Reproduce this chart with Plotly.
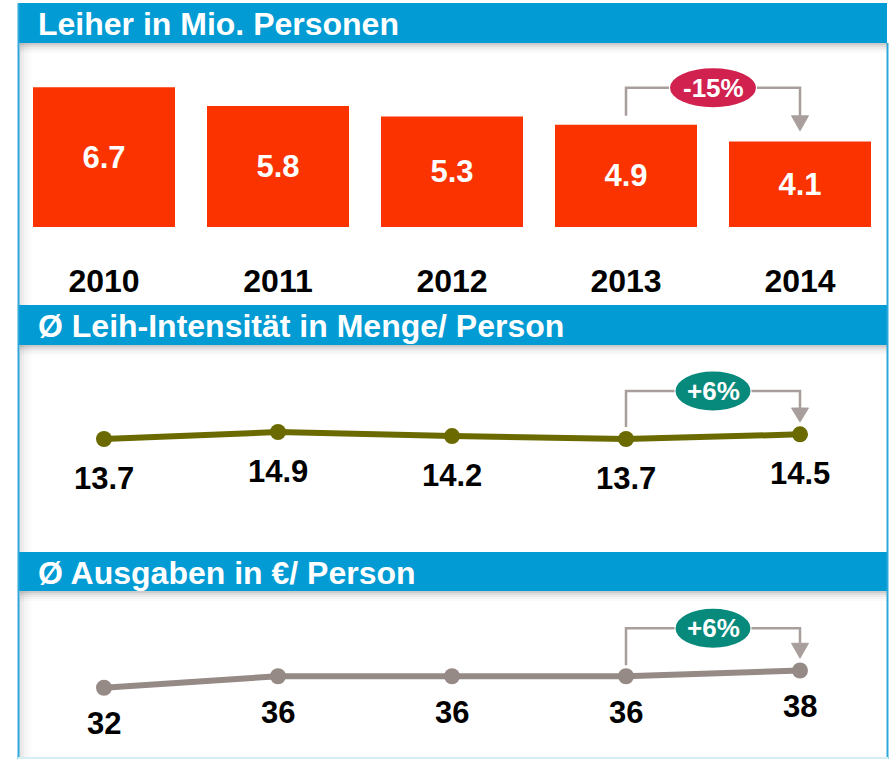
import plotly.graph_objects as go

# ---------------- data ----------------
years = ["2010", "2011", "2012", "2013", "2014"]
leiher = [6.7, 5.8, 5.3, 4.9, 4.1]
leiher_labels = ["6.7", "5.8", "5.3", "4.9", "4.1"]
intensitaet = [13.7, 14.9, 14.2, 13.7, 14.5]
intensitaet_labels = ["13.7", "14.9", "14.2", "13.7", "14.5"]
ausgaben = [32, 36, 36, 36, 38]
ausgaben_labels = ["32", "36", "36", "36", "38"]
titles = ["Leiher in Mio. Personen",
          "Ø Leih-Intensität in Menge/ Person",
          "Ø Ausgaben in €/ Person"]
changes = ["-15%", "+6%", "+6%"]

# ---------------- layout constants ----------------
W, H = 895, 759
FONT = "Liberation Sans, Arial, Helvetica, sans-serif"
HEADER = "#039BD3"
FRAME = "#2EA7DB"
BAR = "#FA3300"
OLIVE = "#6A6A00"
GREY = "#958A85"
BRACKET = "#A89F9C"
XSTEP = 174.0          # px per category
XFIRST = 104.0         # px of first category centre
X0 = -XFIRST / XSTEP
X1 = X0 + W / XSTEP
xpos = list(range(len(years)))


def py(p):
    return 1 - p / H


def pxx(p):
    return p / W


fig = go.Figure()

fig.add_trace(go.Bar(
    x=xpos, y=leiher, text=leiher_labels, textposition="inside",
    insidetextanchor="middle", textangle=0,
    textfont=dict(family=FONT, size=31, color="white", weight="bold"),
    marker=dict(color=BAR, line_width=0), width=142 / XSTEP,
    xaxis="x", yaxis="y", hoverinfo="skip"))

fig.add_trace(go.Scatter(
    x=xpos, y=intensitaet, mode="lines+markers",
    line=dict(color=OLIVE, width=6), marker=dict(size=16, color=OLIVE),
    xaxis="x", yaxis="y2", hoverinfo="skip"))

fig.add_trace(go.Scatter(
    x=xpos, y=ausgaben, mode="lines+markers",
    line=dict(color=GREY, width=6), marker=dict(size=16, color=GREY),
    xaxis="x", yaxis="y3", hoverinfo="skip"))

shapes = []
annotations = []

# left inner shadow
for i, op in enumerate([0.10, 0.07, 0.045, 0.025, 0.012]):
    shapes.append(dict(type="rect", xref="paper", yref="paper",
                       x0=pxx(19 + i * 2.5), x1=pxx(21.5 + i * 2.5),
                       y0=py(759), y1=py(3), fillcolor=f"rgba(0,0,0,{op})",
                       line_width=0, layer="below"))

headers = [(3, 43), (305, 345), (552, 591)]
for (t, b), title in zip(headers, titles):
    # shadow beneath header
    for i, op in enumerate([0.20, 0.13, 0.08, 0.045, 0.02]):
        shapes.append(dict(type="rect", xref="paper", yref="paper",
                           x0=pxx(20), x1=pxx(887),
                           y0=py(b + 2 * (i + 1)), y1=py(b + 2 * i),
                           fillcolor=f"rgba(0,0,0,{op})", line_width=0,
                           layer="below"))
    shapes.append(dict(type="rect", xref="paper", yref="paper",
                       x0=pxx(18), x1=pxx(887), y0=py(b), y1=py(t),
                       fillcolor=HEADER, line_width=0, layer="below"))
    annotations.append(dict(xref="paper", yref="paper", x=pxx(36),
                            y=py((t + b) / 2 + 1), xanchor="left",
                            yanchor="middle", showarrow=False, text=title,
                            font=dict(family=FONT, size=32, color="white",
                                      weight="bold")))

# frame lines
shapes.append(dict(type="line", xref="paper", yref="paper",
                   x0=pxx(18.5), x1=pxx(18.5), y0=py(3), y1=py(759),
                   line=dict(color=FRAME, width=2)))
shapes.append(dict(type="line", xref="paper", yref="paper",
                   x0=pxx(887.5), x1=pxx(887.5), y0=py(43), y1=py(759),
                   line=dict(color=FRAME, width=2)))
shapes.append(dict(type="line", xref="paper", yref="paper",
                   x0=pxx(18), x1=pxx(888), y0=py(758), y1=py(758),
                   line=dict(color="#D4EEF4", width=2)))


def bracket(yref, anchor, left_gap, top, right_base, tip, halfw, color, label):
    xl, xr = 3, 4
    ex_l = 3.5 - (halfw + 1) / XSTEP
    ex_r = 3.5 + (halfw + 1) / XSTEP
    common = dict(xref="x", yref=yref, ysizemode="pixel", yanchor=anchor,
                  line=dict(color=BRACKET, width=2.5))
    shapes.append(dict(type="path",
                       path=f"M {xl},{left_gap} L {xl},{top} L {ex_l},{top}",
                       **common))
    shapes.append(dict(type="path",
                       path=f"M {ex_r},{top} L {xr},{top} L {xr},{right_base}",
                       **common))
    hw = 8.5 / XSTEP
    shapes.append(dict(type="path", xref="x", yref=yref, ysizemode="pixel",
                       yanchor=anchor,
                       path=f"M {xr - hw},{right_base} L {xr + hw},{right_base} L {xr},{tip} Z",
                       fillcolor=BRACKET, line=dict(color=BRACKET, width=1)))
    shapes.append(dict(type="circle", xref="x", yref=yref,
                       xsizemode="pixel", xanchor=3.5, x0=-halfw, x1=halfw,
                       ysizemode="pixel", yanchor=anchor,
                       y0=top - 19.5, y1=top + 19.5,
                       fillcolor=color, line_width=0))
    annotations.append(dict(xref="x", yref=yref, x=3.5, y=anchor,
                            yshift=top, showarrow=False, text=label,
                            xanchor="center", yanchor="middle",
                            font=dict(family=FONT, size=26, color="white",
                                      weight="bold")))


bracket("y", leiher[3], 9, 37, 9, -6, 43, "#D1214F", changes[0])
bracket("y2", intensitaet[3], 12, 48, 31, 17, 37.5, "#078A7B", changes[1])
bracket("y3", ausgaben[3], 11, 48, 33, 18, 37.5, "#078A7B", changes[2])

for i, (v, lab) in enumerate(zip(intensitaet, intensitaet_labels)):
    annotations.append(dict(xref="x", yref="y2", x=xpos[i], y=v, yshift=-39,
                            showarrow=False, text=lab, yanchor="middle",
                            font=dict(family=FONT, size=31, color="black",
                                      weight="bold")))
for i, (v, lab) in enumerate(zip(ausgaben, ausgaben_labels)):
    annotations.append(dict(xref="x", yref="y3", x=xpos[i], y=v, yshift=-36,
                            showarrow=False, text=lab, yanchor="middle",
                            font=dict(family=FONT, size=31, color="black",
                                      weight="bold")))

fig.update_layout(
    width=W, height=H, margin=dict(l=0, r=0, t=0, b=0),
    paper_bgcolor="white", plot_bgcolor="white", showlegend=False,
    hovermode=False,
    xaxis=dict(range=[X0, X1], domain=[0, 1], tickvals=xpos, ticktext=years,
               showgrid=False, zeroline=False, showline=False, ticks="",
               ticklabelstandoff=32, anchor="y", fixedrange=True,
               tickfont=dict(family=FONT, size=32, color="black",
                             weight="bold")),
    yaxis=dict(domain=[py(227), py(45)], range=[0, 182 / 20.85],
               visible=False, anchor="x", fixedrange=True),
    yaxis2=dict(domain=[py(500), py(350)], range=[3.24, 28.97],
                visible=False, anchor="x", fixedrange=True),
    yaxis3=dict(domain=[py(745), py(600)], range=[12.09, 62.52],
                visible=False, anchor="x", fixedrange=True),
    shapes=shapes, annotations=annotations,
)

fig.write_html("out.html",
               config={"displayModeBar": False, "staticPlot": True},
               post_script="document.body.style.margin='0';"
                           "document.body.style.overflow='hidden';")
